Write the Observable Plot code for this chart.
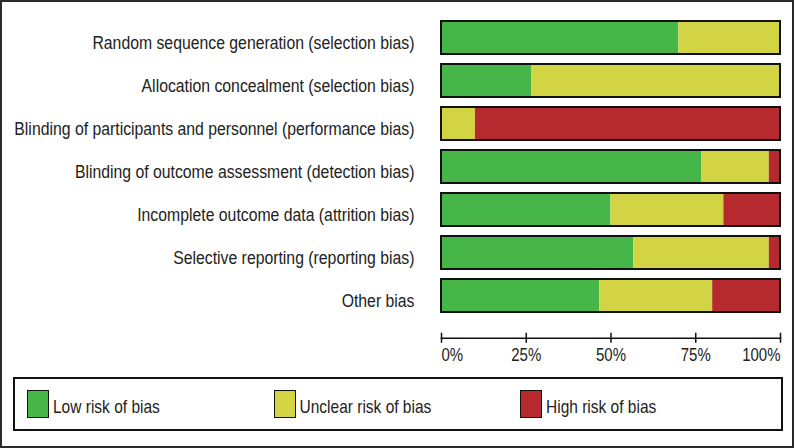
<!DOCTYPE html>
<html><head><meta charset="utf-8">
<script src="https://cdn.jsdelivr.net/npm/d3@7"></script>
<script src="https://cdn.jsdelivr.net/npm/@observablehq/plot@0.6"></script>
<style>
body{margin:0;background:#fff;}
#wrap{position:relative;width:795px;height:448px;overflow:hidden;font-family:"Liberation Sans",Arial,sans-serif;}
#frame{position:absolute;left:0;top:0;width:794px;height:448px;box-sizing:border-box;border:2px solid #2b2b2b;pointer-events:none;}
#chart{position:absolute;left:0;top:0;}
#legend{position:absolute;left:13px;top:377px;width:770px;height:54px;box-sizing:border-box;border:2px solid #111;display:flex;align-items:center;padding-left:12px;}
.item{display:flex;align-items:center;width:246.5px;gap:4px;font-size:15.5px;color:#222;}
.item span{display:inline-block;position:relative;top:3px;transform:scaleY(1.2);}
.sw{width:22px;height:28px;box-sizing:border-box;border:1.5px solid #111;flex:none;}
</style></head><body>
<div id="wrap"><div id="chart"></div><div id="legend"></div><div id="frame"></div></div>
<script>
const domains = [
  "Random sequence generation (selection bias)",
  "Allocation concealment (selection bias)",
  "Blinding of participants and personnel (performance bias)",
  "Blinding of outcome assessment (detection bias)",
  "Incomplete outcome data (attrition bias)",
  "Selective reporting (reporting bias)",
  "Other bias"
];
const riskLevels = ["Low risk of bias", "Unclear risk of bias", "High risk of bias"];
const riskColors = ["#46b649", "#d3d443", "#b5292f"];
const lowRisk     = [70, 26.7, 0, 76.7, 50, 56.7, 46.7];
const unclearRisk = [30, 73.3, 10, 20, 33.3, 40, 33.3];
const highRisk    = [0, 0, 90, 3.3, 16.7, 3.3, 20];
const tickValues = [0, 25, 50, 75, 100];
const tickLabels = ["0%", "25%", "50%", "75%", "100%"];

const series = [lowRisk, unclearRisk, highRisk];
const rows = domains.flatMap((d, i) => riskLevels.map((r, j) => ({domain: d, risk: r, value: series[j][i]})));

const font = '"Liberation Sans", Arial, sans-serif';
const tickText = (idx, anchor) => Plot.text(tickValues, {
  x: d => d, text: (d, i) => tickLabels[i], filter: (d, i) => idx.includes(i),
  frameAnchor: "bottom", dy: 22.5, textAnchor: anchor, fontSize: 15, fill: "#222"
});
const frameH = 337.7 - 8;

const chart = Plot.plot({
  width: 795, height: 370,
  marginLeft: 441, marginRight: 15, marginTop: 8, marginBottom: 32.3,
  x: {domain: [0, 100], axis: null},
  y: {domain: domains, range: [7.8, 324.3], padding: 0.234, axis: null},
  color: {domain: riskLevels, range: riskColors},
  style: {fontFamily: font, fontSize: "16px", color: "#222", background: "transparent"},
  marks: [
    Plot.barX(rows, Plot.stackX({x: "value", y: "domain", fill: "risk", order: riskLevels})),
    Plot.barX(rows, Plot.groupY({x: "sum"}, {x: "value", y: "domain", fill: "none", stroke: "#111", strokeWidth: 2})),
    Plot.frame({anchor: "bottom", stroke: "#111", strokeWidth: 1.5}),
    Plot.ruleX(tickValues, {x: d => d, insetTop: frameH - 5, insetBottom: -5, stroke: "#111", strokeWidth: 1.5}),
    tickText([0], "start"),
    tickText([1, 2, 3], "middle"),
    tickText([4], "end"),
    Plot.text(domains, {y: d => d, text: d => d, frameAnchor: "left", textAnchor: "end", dx: -27, dy: 4.5, fontSize: 15.8, fill: "#222"})
  ]
});
// slightly tall, narrow lettering as in the reference
chart.querySelectorAll("text").forEach(t => {
  t.setAttribute("transform", (t.getAttribute("transform") || "") + " scale(1,1.2)");
});
document.getElementById("chart").appendChild(chart);

const legend = document.getElementById("legend");
riskLevels.forEach((r, i) => {
  const item = document.createElement("div");
  item.className = "item";
  const sw = document.createElement("div");
  sw.className = "sw";
  sw.style.background = riskColors[i];
  const label = document.createElement("span");
  label.textContent = r;
  item.appendChild(sw);
  item.appendChild(label);
  legend.appendChild(item);
});
</script>
</body></html>
